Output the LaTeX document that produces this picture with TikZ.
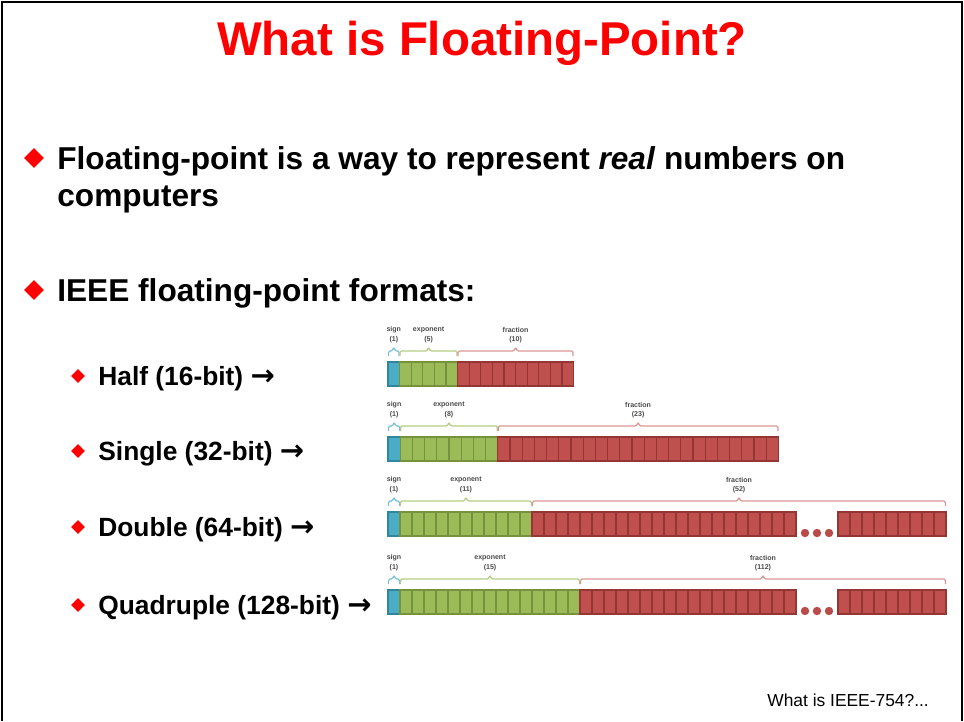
\documentclass[tikz,border=0pt]{standalone}
\usepackage{fontspec}
\setmainfont{Liberation Sans}
\newfontfamily\arrowfont{DejaVu Sans}
\usetikzlibrary{shapes.geometric}

\definecolor{slidered}{HTML}{FF0000}
\definecolor{signfill}{HTML}{4BACC6}
\definecolor{signedge}{HTML}{31859C}
\definecolor{expfill}{HTML}{9BBB59}
\definecolor{expedge}{HTML}{76923C}
\definecolor{fracfill}{HTML}{C0504D}
\definecolor{fracedge}{HTML}{943634}
\definecolor{fieldlabel}{HTML}{4A4A4A}

\newcommand{\toarrow}{{\arrowfont\bfseries\fontsize{16.5}{18}\selectfont →}}

\tikzset{
    titletext/.style={inner sep=0pt, text=slidered, font=\fontsize{27}{30}\selectfont\bfseries},
    bodytext/.style={inner sep=0pt, anchor=base west, font=\fontsize{18}{21}\selectfont\bfseries},
    subtext/.style={inner sep=0pt, anchor=base west, font=\fontsize{15}{18}\selectfont\bfseries},
    bullet/.style={diamond, fill=slidered, inner sep=0pt, minimum size=11.3pt},
    subbullet/.style={diamond, fill=slidered, inner sep=0pt, minimum size=8pt},
    signcell/.style={fill=signfill, draw=signedge, line width=0.75pt},
    expcell/.style={fill=expfill, draw=expedge, line width=0.75pt},
    fraccell/.style={fill=fracfill, draw=fracedge, line width=0.75pt},
    fieldname/.style={inner sep=0pt, text=fieldlabel, font=\fontsize{4}{4.5}\selectfont\bfseries}
}

% bracket over a field: colour, left x, right x, top of the bar
\newcommand{\fieldbracket}[4]{%
    \draw[#1, line width=0.7pt, rounded corners=0.8pt]
        ({#2+0.5},{#4-6}) -- ({#2+0.5},{#4-11}) -- ({(#2+#3)/2-1.5},{#4-11})
        -- ({(#2+#3)/2},{#4-15}) -- ({(#2+#3)/2+1.5},{#4-11})
        -- ({#3-0.5},{#4-11}) -- ({#3-0.5},{#4-6});}

\begin{document}
\begin{tikzpicture}[x=0.02cm, y=-0.02cm]
    \useasboundingbox (0,0) rectangle (964,721);
    \draw[line width=1.1pt] (2,721) -- (2,2) -- (962,2) -- (962,721);

    \node[titletext, anchor=base] (title) at (482,55) {What is Floating-Point?};

    \node[bullet] (b1) at (34,158) {};
    \node[bodytext] (line1) at (57,169) {Floating-point is a way to represent \textit{real} numbers on};
    \node[bodytext] (line2) at (57,206) {computers};

    \node[bullet] (b2) at (34,290) {};
    \node[bodytext] (formats) at (57,301) {IEEE floating-point formats:};

    \node[subbullet] (s1) at (78,376) {};
    \node[subtext] (half) at (98,385) {Half (16-bit) \toarrow};
    \node[subbullet] (s2) at (78,451) {};
    \node[subtext] (single) at (98,460) {Single (32-bit) \toarrow};
    \node[subbullet] (s3) at (78,527) {};
    \node[subtext] (double) at (98,536) {Double (64-bit) \toarrow};
    \node[subbullet] (s4) at (78,605) {};
    \node[subtext] (quad) at (98,614) {Quadruple (128-bit) \toarrow};

    % bit layouts: name/top/cell width/exponent bits/fraction cells before and after the gap/fraction bits
    \foreach \row/\top/\w/\ne/\nfa/\nfb/\lfrac in {
        half/362/11.6/5/10/0/10,
        single/437/12.2/8/23/0/23,
        double/512/12/11/22/9/52,
        quad/590/12/15/18/9/112}
    {
        \pgfmathsetmacro\xexp{388+\w}
        \pgfmathsetmacro\xfrac{388+\w*(1+\ne)}
        \pgfmathsetmacro\xend{ifthenelse(\nfb==0, 388+\w*(1+\ne+\nfa), 838+\w*\nfb)}
        \draw[signcell] (388,\top) rectangle ++(\w,24);
        \foreach \i in {1,...,\ne}
            \draw[expcell] ({388+\w*\i},\top) rectangle ++(\w,24);
        \foreach \i in {1,...,\nfa}
            \draw[fraccell] ({388+\w*(\ne+\i)},\top) rectangle ++(\w,24);
        \ifnum\nfb>0
            \foreach \i in {1,...,\nfb}
                \draw[fraccell] ({838+\w*(\i-1)},\top) rectangle ++(\w,24);
            \foreach \dx in {805,817,829}
                \fill[fracfill!85!fracedge] (\dx,{\top+21}) circle (4.2);
        \fi
        \fieldbracket{signfill!75}{388}{\xexp}{\top}
        \fieldbracket{expfill!75}{\xexp}{\xfrac}{\top}
        \fieldbracket{fracfill!60}{\xfrac}{\xend}{\top}
        \node[fieldname] (\row-sign) at ({388+\w/2},{\top-32}) {sign};
        \node[fieldname] (\row-signbits) at ({388+\w/2},{\top-22}) {(1)};
        \node[fieldname] (\row-exp) at ({(\xexp+\xfrac)/2},{\top-32}) {exponent};
        \node[fieldname] (\row-expbits) at ({(\xexp+\xfrac)/2},{\top-22}) {(\ne)};
        \node[fieldname] (\row-frac) at ({(\xfrac+\xend)/2},{\top-32}) {fraction};
        \node[fieldname] (\row-fracbits) at ({(\xfrac+\xend)/2},{\top-22}) {(\lfrac)};
    }

    \node[inner sep=0pt, anchor=base west, font=\fontsize{9.9}{12}\selectfont] (next) at (767,706) {What is IEEE-754?...};
\end{tikzpicture}
\end{document}
